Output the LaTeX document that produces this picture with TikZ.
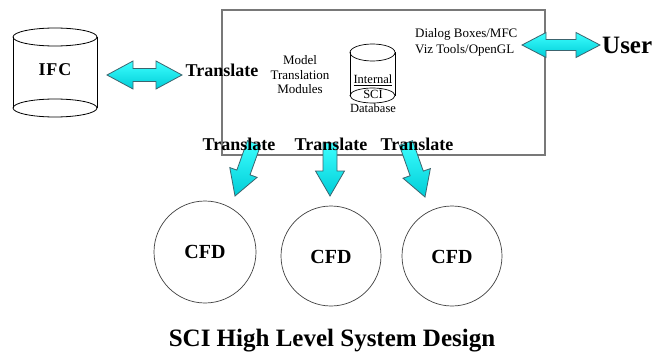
\documentclass[tikz,border=0pt]{standalone}
\usepackage{fontspec}
\setmainfont{Liberation Serif}
\usetikzlibrary{calc}
\definecolor{arrfill1}{RGB}{60,255,255}
\definecolor{arrfill2}{RGB}{0,205,215}
\definecolor{arrline}{RGB}{60,100,110}
\definecolor{boxline}{RGB}{120,120,120}
\tikzset{
  bluearrow/.style={draw=arrline, line width=0.8pt, top color=arrfill1, bottom color=arrfill2, line join=miter},
  cyl/.style={draw=black, line width=0.8pt},
  bigbold/.style={font=\fontsize{18}{18}\selectfont\bfseries, inner sep=0pt},
  cfdlbl/.style={font=\fontsize{20}{20}\selectfont\bfseries, inner sep=0pt},
  smalltxt/.style={font=\fontsize{13}{14}\selectfont, inner sep=0pt},
  dbtxt/.style={font=\fontsize{12.5}{13}\selectfont, inner sep=0pt},
  cfdcirc/.style={circle, draw=black!75, line width=0.7pt, inner sep=0pt},
}
% single block arrow from #1 to #2
\newcommand\sblockarrow[2]{%
  \coordinate (#1-hb) at ($(#2)!25pt!(#1)$);
  \path[bluearrow] ($(#1)!7pt!90:(#2)$) -- ($(#1-hb)!7pt!90:(#2)$) -- ($(#1-hb)!14.5pt!90:(#2)$)
    -- (#2) -- ($(#1-hb)!14.5pt!-90:(#2)$) -- ($(#1-hb)!7pt!-90:(#2)$) -- ($(#1)!7pt!-90:(#2)$) -- cycle;}
% double block arrow between #1 and #2; #3 head half width, #4 shaft half width, #5 head length
\newcommand\dblockarrow[5]{%
  \coordinate (#1-ha) at ($(#1)!#5!(#2)$);
  \coordinate (#1-hb) at ($(#2)!#5!(#1)$);
  \path[bluearrow] (#1) -- ($(#1-ha)!#3!90:(#2)$) -- ($(#1-ha)!#4!90:(#2)$) -- ($(#1-hb)!#4!-90:(#1)$)
    -- ($(#1-hb)!#3!-90:(#1)$) -- (#2) -- ($(#1-hb)!#3!90:(#1)$) -- ($(#1-hb)!#4!90:(#1)$)
    -- ($(#1-ha)!#4!-90:(#2)$) -- ($(#1-ha)!#3!-90:(#2)$) -- cycle;}
\begin{document}
\begin{tikzpicture}[x=1pt,y=-1pt]
\useasboundingbox[fill=white] (0,0) rectangle (656,353);

% main system box
\node[draw=boxline, line width=1.3pt, minimum width=323pt, minimum height=145pt, inner sep=0pt] (sys) at (383.5,82.5) {};

% IFC cylinder
\draw[cyl] (13,37) -- (13,108) (97,37) -- (97,108);
\draw[cyl] (55,37) ellipse [x radius=42, y radius=9];
\draw[cyl] (55,108) ellipse [x radius=42, y radius=9];
\node[bigbold] (ifc) at (55,70) {I\kern1pt F\kern1pt C};

% SCI database cylinder
\draw[cyl, line width=0.7pt] (350,52.5) -- (350,95.5) (395,52.5) -- (395,95.5);
\draw[cyl, line width=0.7pt] (372.5,52.5) ellipse [x radius=22.5, y radius=8.5];
\draw[cyl, line width=0.7pt] (372.5,95.5) ellipse [x radius=22.5, y radius=7.5];
\node[dbtxt, anchor=base] (internal) at (373,84) {\underline{Internal}};
\node[dbtxt, anchor=base] (sci) at (373,98) {SCI};
\node[dbtxt, anchor=base] (database) at (373,112) {Database};

% small texts in box
\node[smalltxt, anchor=base] (mtm1) at (300,65) {Model};
\node[smalltxt, anchor=base] (mtm2) at (300,79) {Translation};
\node[smalltxt, anchor=base] (mtm3) at (300,93) {Modules};
\node[smalltxt, anchor=base west] (dlg) at (415,38) {Dialog Boxes/MFC};
\node[smalltxt, anchor=base west] (viz) at (415,54) {Viz Tools/OpenGL};

% arrow end coordinates
\coordinate (ifcE) at (107,75);
\coordinate (trW) at (182,75);
\coordinate (usrW) at (522,45);
\coordinate (usrE) at (600,45);
\coordinate (t1) at (254,143);
\coordinate (c1) at (235,196);
\coordinate (t2) at (330,143);
\coordinate (c2) at (330,196);
\coordinate (t3) at (406,143);
\coordinate (c3) at (425,197);

% block arrows
\dblockarrow{ifcE}{trW}{14pt}{6.5pt}{26pt}
\dblockarrow{usrW}{usrE}{12.5pt}{5.5pt}{24pt}
\sblockarrow{t1}{c1}
\sblockarrow{t2}{c2}
\sblockarrow{t3}{c3}

% labels
\node[bigbold, anchor=base] (trL) at (222,77) {Translate};
\node[bigbold, anchor=base] (tr1) at (239,150) {Translate};
\node[bigbold, anchor=base] (tr2) at (331,150) {Translate};
\node[bigbold, anchor=base] (tr3) at (417,150) {Translate};
\node[font=\fontsize{25}{25}\selectfont\bfseries, inner sep=0pt, anchor=base west] (user) at (602,54) {User};

% CFD circles
\node[cfdcirc, minimum size=102pt] (cfd1) at (205,252) {};
\node[cfdcirc, minimum size=100pt] (cfd2) at (331,256) {};
\node[cfdcirc, minimum size=100pt] (cfd3) at (452,256) {};
\node[cfdlbl] at (cfd1) {CFD};
\node[cfdlbl] at (cfd2.center) [yshift=-1pt] {CFD};
\node[cfdlbl] at (cfd3.center) [yshift=-1pt] {CFD};

% title
\node[font=\fontsize{25}{25}\selectfont\bfseries, inner sep=0pt, anchor=base] (title) at (332,346) {SCI High Level System Design};
\end{tikzpicture}
\end{document}
